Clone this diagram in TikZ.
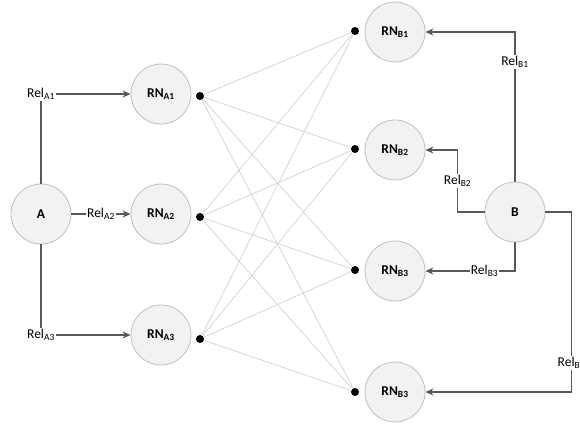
\documentclass[tikz,border=0pt]{standalone}
\usepackage{fontspec}
\setmainfont{Carlito}
\usetikzlibrary{positioning, arrows.meta}

\begin{document}
\begin{tikzpicture}[x=1pt, y=-1pt,
font=\fontsize{13.5}{15}\selectfont,
roundnode/.style={circle, draw=black!25, fill=black!5, line width=0.8pt, minimum size=60pt, inner sep=0pt, font=\fontsize{13.5}{15}\selectfont\bfseries},
dotnode/.style={circle, fill=black, inner sep=0pt, minimum size=8pt},
relarrow/.style={-{Stealth[length=8pt,width=7pt]}, draw=black!65, line width=1.1pt},
mesh/.style={draw=black!20, line width=0.6pt},
rel/.style={fill=white, inner sep=1pt},
]
\useasboundingbox (0,0) rectangle (580,425);
%nodes
\node[roundnode](A) at (41,214) {A};
\node[roundnode](rna1) at (161,94) {RN\textsubscript{A1}};
\node[roundnode](rna2) at (161,214) {RN\textsubscript{A2}};
\node[roundnode](rna3) at (161,335) {RN\textsubscript{A3}};
\node[roundnode](rnb1) at (395,32) {RN\textsubscript{B1}};
\node[roundnode](rnb2) at (395,150) {RN\textsubscript{B2}};
\node[roundnode](rnb3) at (395,271) {RN\textsubscript{B3}};
\node[roundnode](rnb4) at (395,392) {RN\textsubscript{B3}};
\node[roundnode](B) at (515,212) {B};
%dots
\node[dotnode](da1) at (200,96) {};
\node[dotnode](da2) at (200,217) {};
\node[dotnode](da3) at (200,339) {};
\node[dotnode](db1) at (355,31) {};
\node[dotnode](db2) at (355,149) {};
\node[dotnode](db3) at (355,270) {};
\node[dotnode](db4) at (355,392) {};
%mesh
\foreach \i in {1,2,3}
  \foreach \j in {1,...,4}
    \draw[mesh] (da\i) -- (db\j);
%connections
\draw[relarrow] (A) |- node[rel]{Rel\textsubscript{A1}} (rna1);
\draw[relarrow] (A) -- node[rel]{Rel\textsubscript{A2}} (rna2);
\draw[relarrow] (A) |- node[rel]{Rel\textsubscript{A3}} (rna3);
\draw[relarrow] (B) |- node[rel, pos=0.4]{Rel\textsubscript{B1}} (rnb1);
\draw[relarrow] (B.west) -- ++(-27,0) |- node[rel, pos=0.25]{Rel\textsubscript{B2}} (rnb2);
\draw[relarrow] (B) |- node[rel, pos=0.67]{Rel\textsubscript{B3}} (rnb3);
\draw[relarrow] (B.east) -- ++(26,0) |- node[rel, pos=0.42]{Rel\textsubscript{B4}} (rnb4);
\end{tikzpicture}
\end{document}
